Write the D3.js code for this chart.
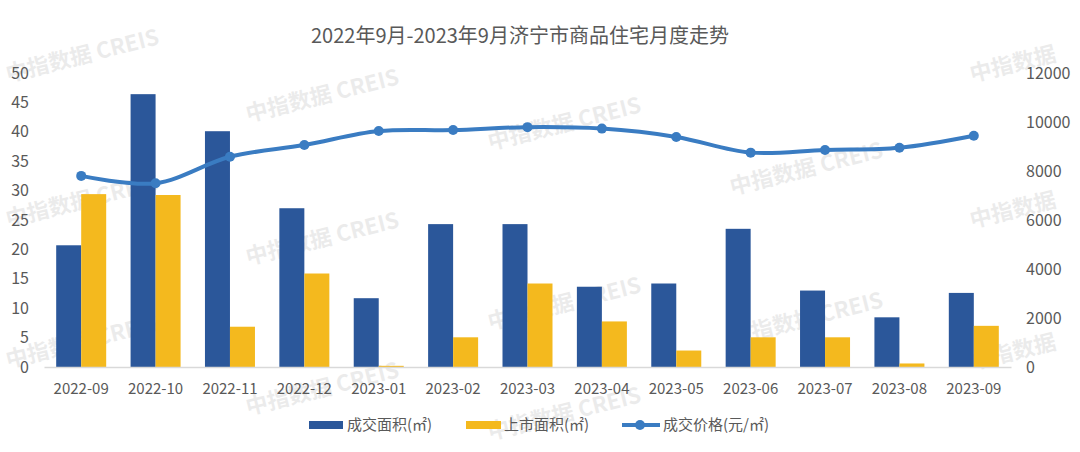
<!DOCTYPE html>
<html><head><meta charset="utf-8">
<script src="https://cdn.jsdelivr.net/npm/d3@7"></script>
<style>
html,body{margin:0;padding:0;background:#fff;}
svg{display:block;font-family:"Noto Sans CJK SC","Noto Sans",sans-serif;}
</style></head>
<body><svg id="c" width="1080" height="452"></svg>
<script>
const categories = ["2022-09","2022-10","2022-11","2022-12","2023-01","2023-02","2023-03","2023-04","2023-05","2023-06","2023-07","2023-08","2023-09"];
const dealArea = [20.7,46.4,40.1,27.0,11.7,24.3,24.3,13.65,14.2,23.5,13.0,8.45,12.6];
const listedArea = [29.4,29.25,6.85,15.9,0.2,5.05,14.2,7.75,2.8,5.05,5.05,0.6,7.0];
const dealPrice = [7800,7500,8580,9060,9630,9670,9790,9730,9390,8750,8860,8950,9440];
const leftTicks = [0,5,10,15,20,25,30,35,40,45,50];
const rightTicks = [0,2000,4000,6000,8000,10000,12000];
const seriesNames = ["成交面积(㎡)","上市面积(㎡)","成交价格(元/㎡)"];
const titleText = "2022年9月-2023年9月济宁市商品住宅月度走势";
const watermark = "中指数据 CREIS";
const watermarkShort = "中指数据";

const colors = {deal:"#2b579a", listed:"#f4b91e", price:"#3a7cc2", text:"#595959"};
const svg = d3.select("#c");

// watermarks (decorative)
const wm = [[8,82,watermark],[248,122,watermark],[490,150,watermark],[732,195,watermark],[972,82,watermarkShort],
            [8,227,watermark],[248,265,watermark],[490,330,watermark],[732,345,watermark],[972,228,watermarkShort],
            [8,368,watermark],[248,415,watermark],[490,440,watermark],[972,370,watermarkShort]];
svg.append("g").selectAll("text").data(wm).join("text")
  .attr("transform",d=>`translate(${d[0]},${d[1]}) rotate(-14)`)
  .attr("font-size",22).attr("font-weight","bold").attr("fill","#000").attr("opacity",0.075)
  .text(d=>d[2]);

const x = d3.scaleBand().domain(categories).range([44,1011]).padding(0);
const inner = d3.scaleBand().domain(["deal","listed"]).range([x.bandwidth()/2-25, x.bandwidth()/2+25]);
const yL = d3.scaleLinear().domain([0,50]).range([367,73]);
const yR = d3.scaleLinear().domain([0,12000]).range([367,73]);

// title
svg.append("text").attr("x",520).attr("y",43).attr("text-anchor","middle")
  .attr("font-size",20).attr("fill",colors.text).text(titleText);

// left axis
const gl = svg.append("g").attr("transform","translate(29,0)")
  .call(d3.axisLeft(yL).tickValues(leftTicks).tickSize(0).tickPadding(0));
gl.select(".domain").remove();
gl.selectAll("text").attr("font-size",16).attr("fill",colors.text).attr("font-family","'Noto Sans CJK SC',sans-serif");

// right axis
const gr = svg.append("g").attr("transform","translate(1026,0)")
  .call(d3.axisRight(yR).tickValues(rightTicks).tickFormat(d3.format("d")).tickSize(0).tickPadding(0));
gr.select(".domain").remove();
gr.selectAll("text").attr("font-size",16).attr("fill",colors.text).attr("font-family","'Noto Sans CJK SC',sans-serif");

// bars
const bars = svg.append("g");
bars.selectAll("rect.deal").data(categories).join("rect").attr("class","deal")
  .attr("x",(d)=>x(d)+inner("deal")).attr("width",inner.bandwidth())
  .attr("y",(d,i)=>yL(dealArea[i])).attr("height",(d,i)=>yL(0)-yL(dealArea[i]))
  .attr("fill",colors.deal);
bars.selectAll("rect.listed").data(categories).join("rect").attr("class","listed")
  .attr("x",(d)=>x(d)+inner("listed")).attr("width",inner.bandwidth())
  .attr("y",(d,i)=>yL(listedArea[i])).attr("height",(d,i)=>yL(0)-yL(listedArea[i]))
  .attr("fill",colors.listed);

// x axis
const gx = svg.append("g").attr("transform","translate(0,367)")
  .call(d3.axisBottom(x).tickSize(0).tickPadding(16));
gx.select(".domain").attr("stroke","#d9d9d9").attr("stroke-width",1.5);
gx.selectAll("text").attr("font-size",15).attr("fill",colors.text).attr("font-family","'Noto Sans CJK SC',sans-serif");

// line
const line = d3.line().x((d,i)=>x(categories[i])+x.bandwidth()/2).y(d=>yR(d)).curve(d3.curveCatmullRom.alpha(0.5));
svg.append("path").datum(dealPrice).attr("d",line).attr("fill","none")
  .attr("stroke",colors.price).attr("stroke-width",4).attr("stroke-linecap","round");
svg.append("g").selectAll("circle").data(dealPrice).join("circle")
  .attr("cx",(d,i)=>x(categories[i])+x.bandwidth()/2).attr("cy",d=>yR(d)).attr("r",5)
  .attr("fill",colors.price);

// legend
const lg = svg.append("g").attr("font-size",15).attr("fill",colors.text);
lg.append("rect").attr("x",309).attr("y",421).attr("width",34).attr("height",8).attr("fill",colors.deal);
lg.append("text").attr("x",347).attr("y",430).text(seriesNames[0]);
lg.append("rect").attr("x",466).attr("y",421).attr("width",35).attr("height",8).attr("fill",colors.listed);
lg.append("text").attr("x",504).attr("y",430).text(seriesNames[1]);
lg.append("line").attr("x1",622).attr("x2",660).attr("y1",425).attr("y2",425).attr("stroke",colors.price).attr("stroke-width",4);
lg.append("circle").attr("cx",640).attr("cy",425).attr("r",5).attr("fill",colors.price);
lg.append("text").attr("x",663).attr("y",430).text(seriesNames[2]);
</script></body></html>
